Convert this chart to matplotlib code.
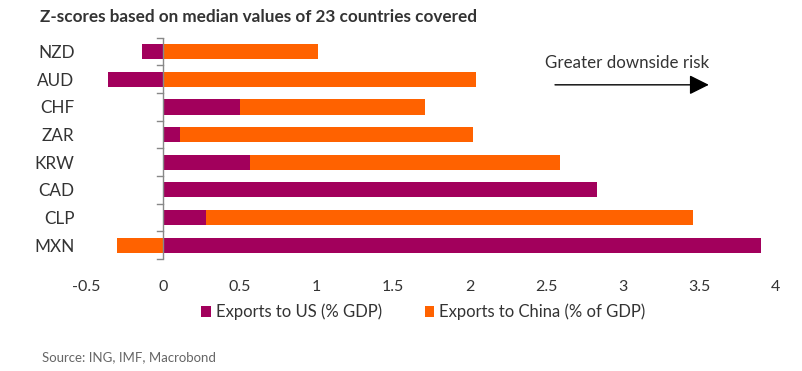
import matplotlib.pyplot as plt
import numpy as np

# data
currencies = ['NZD', 'AUD', 'CHF', 'ZAR', 'KRW', 'CAD', 'CLP', 'MXN']
exports_us = [-0.14, -0.36, 0.50, 0.11, 0.57, 2.83, 0.28, 3.90]
exports_china = [1.01, 2.04, 1.21, 1.91, 2.02, 0.0, 3.18, -0.30]
xticks = [-0.5, 0, 0.5, 1, 1.5, 2, 2.5, 3, 3.5, 4]

purple = '#A2005C'
orange = '#FF6200'
text_col = '#333333'

plt.rcParams['font.family'] = ['Lato', 'DejaVu Sans']

fig = plt.figure(figsize=(8.02, 3.71), dpi=100)
ax = fig.add_axes([0.0981, 0.302, 0.879, 0.596])

y = np.arange(len(currencies))
us = np.array(exports_us)
cn = np.array(exports_china)
# china stacks on top of the US bar when both are positive, else starts at 0
cn_left = np.where((us > 0) & (cn > 0), us, 0)

ax.barh(y, us, height=0.55, color=purple, label='Exports to US (% GDP)')
ax.barh(y, cn, left=cn_left, height=0.55, color=orange,
        label='Exports to China (% of GDP)')

ax.set_xlim(-0.55, 4.05)
ax.set_ylim(len(currencies) - 0.5, -0.5)
for s in ax.spines.values():
    s.set_visible(False)

ax.set_yticks(y)
ax.set_yticklabels(currencies, fontsize=12.3, color=text_col)
ax.set_xticks(xticks)
ax.set_xticklabels([f'{t:g}' for t in xticks], fontsize=11.5, color=text_col)
ax.tick_params(axis='both', length=0)
ax.tick_params(axis='x', pad=15)
ax.tick_params(axis='y', pad=3)

# vertical zero line with small category ticks
ax.axvline(0, color='#888888', lw=1, zorder=3)
for b in np.arange(len(currencies) + 1) - 0.5:
    ax.plot([-0.04, 0], [b, b], color='#888888', lw=1, clip_on=False)

# annotation
ax.text(3.03, 0.42, 'Greater downside risk', ha='center', va='center',
        fontsize=12.2, color=text_col)
ax.annotate('', xy=(3.58, 1.2), xytext=(2.54, 1.2),
            arrowprops=dict(arrowstyle='-|>,head_length=0.6,head_width=0.3',
                            color='black', lw=1, mutation_scale=20))

fig.text(0.05, 0.954, 'Z-scores based on median values of 23 countries covered',
         fontsize=12.3, fontweight='bold', color=text_col, va='center')

fig.legend(loc='center', bbox_to_anchor=(0.528, 0.159), ncol=2, frameon=False,
           fontsize=12, handlelength=0.55, handleheight=0.7, handletextpad=0.3,
           columnspacing=2.6, labelcolor=text_col)

fig.text(0.052, 0.038, 'Source: ING, IMF, Macrobond', fontsize=9.5,
         color='#666666', va='center')

fig.savefig('out.png', dpi=100)
